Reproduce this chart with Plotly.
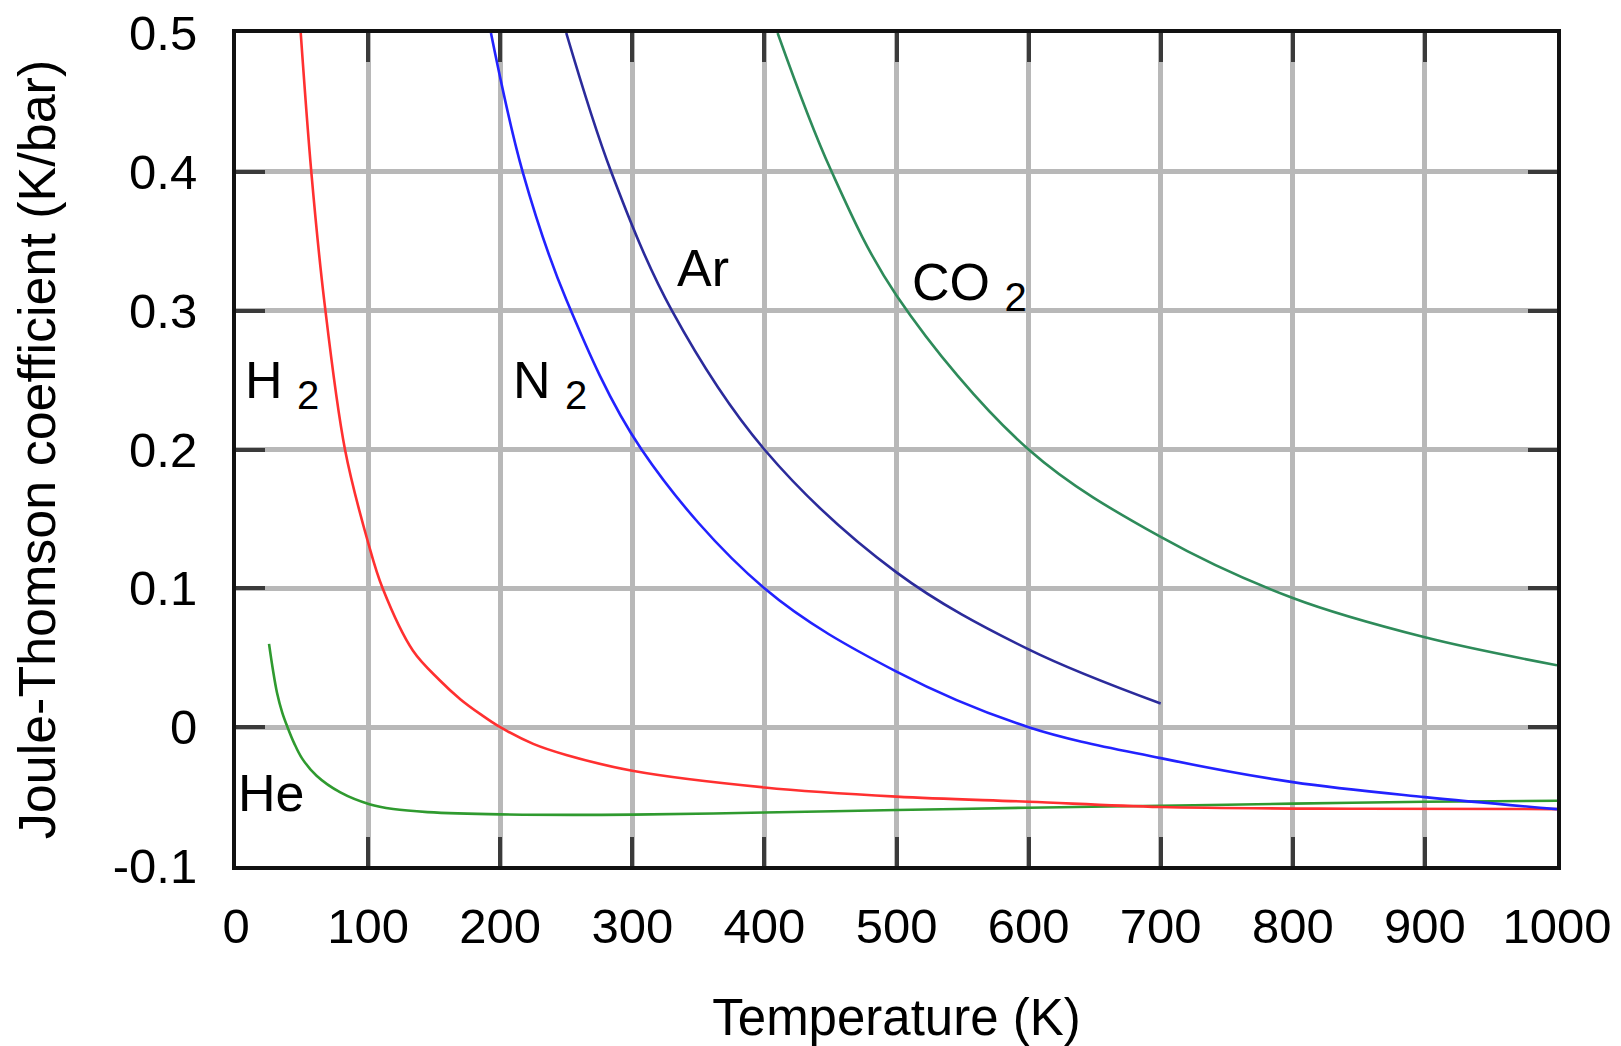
import plotly.graph_objects as go

# ---------------- data ----------------
h2_T = [49, 57, 66.7, 82.5, 100, 111, 134, 154, 170, 185, 200, 225, 250, 300,
        400, 500, 600, 700, 850, 1000]
h2_mu = [0.5, 0.4, 0.308, 0.2, 0.133, 0.1, 0.055, 0.034, 0.020, 0.0094, 0.0,
         -0.012, -0.020, -0.0314, -0.0434, -0.050, -0.0537, -0.0575, -0.0588, -0.059]

he_T = [25, 28, 31, 35, 39, 44, 50, 61, 79, 101, 119, 145, 200, 300, 400, 500,
        600, 700, 800, 900, 1000]
he_mu = [0.06, 0.041, 0.025, 0.0105, 0.0, -0.0115, -0.0225, -0.035, -0.047,
         -0.0555, -0.059, -0.0612, -0.0628, -0.063, -0.0615, -0.0597, -0.058,
         -0.0566, -0.0551, -0.0537, -0.053]

n2_T = [193, 217, 250, 307, 400, 500, 600, 700, 800, 900, 1000]
n2_mu = [0.5, 0.4, 0.308, 0.2, 0.1, 0.040, 0.0, -0.0223, -0.0396, -0.0504, -0.059]

ar_T = [250, 284, 330, 400, 500, 600, 700]
ar_mu = [0.5, 0.4, 0.3, 0.2, 0.1115, 0.056, 0.017]

co2_T = [410, 450, 500, 600, 700, 800, 900, 1000]
co2_mu = [0.5, 0.402, 0.311, 0.2, 0.137, 0.093, 0.0647, 0.0446]

x_ticks = [0, 100, 200, 300, 400, 500, 600, 700, 800, 900, 1000]
x_ticktext = ["0", "100", "200", "300", "400", "500", "600", "700", "800", "900", "1000"]
y_ticks = [-0.1, 0.0, 0.1, 0.2, 0.3, 0.4, 0.5]
y_ticktext = ["-0.1", "0", "0.1", "0.2", "0.3", "0.4", "0.5"]

SUB = "<sub><span style='font-size:40px'>2</span></sub>"
labels = ["He", "H " + SUB, "N " + SUB, "Ar", "CO " + SUB]
label_T = [0, 5.5, 208, 332, 510]
label_mu = [-0.0475, 0.2470, 0.2470, 0.331, 0.318]

# ---------------- figure ----------------
FONT = "Liberation Sans, Arial, sans-serif"

series = [
    ("He", he_T, he_mu, "#2f9a2f"),
    ("H2", h2_T, h2_mu, "#ff3030"),
    ("N2", n2_T, n2_mu, "#2222ff"),
    ("Ar", ar_T, ar_mu, "#2b2b9b"),
    ("CO2", co2_T, co2_mu, "#2e8b5a"),
]

fig = go.Figure()
for name, xs, ys, col in series:
    fig.add_trace(go.Scatter(
        x=xs, y=ys, mode="lines", name=name,
        line=dict(color=col, width=2.6, shape="spline", smoothing=1.0),
        showlegend=False, hoverinfo="skip", cliponaxis=True,
    ))

for txt, tx, ty in zip(labels, label_T, label_mu):
    fig.add_annotation(x=tx, y=ty, xref="x", yref="y", text=txt, showarrow=False,
                       xanchor="left", yanchor="middle",
                       font=dict(family=FONT, size=52, color="black"))

axis_common = dict(
    showgrid=True, gridcolor="#b8b8b8", gridwidth=4.5,
    zeroline=False,
    showline=True, linecolor="#111111", linewidth=4, mirror="ticks",
    ticks="inside", ticklen=29, tickwidth=4, tickcolor="#3a3a3a",
    tickfont=dict(family=FONT, size=49, color="black"),
    automargin=False,
)

fig.update_xaxes(range=[0, 1000], tickvals=x_ticks, ticktext=x_ticktext,
                 ticklabelstandoff=14,
                 title=dict(text="Temperature (K)", standoff=50,
                            font=dict(family=FONT, size=51, color="black")),
                 **axis_common)
fig.update_yaxes(range=[-0.1, 0.5], tickvals=y_ticks, ticktext=y_ticktext,
                 ticklabelstandoff=25,
                 title=dict(text="Joule-Thomson coefficient (K/bar)", standoff=42,
                            font=dict(family=FONT, size=52, color="black")),
                 **axis_common)

fig.update_layout(
    width=1621, height=1046,
    margin=dict(l=236, r=64, t=33, b=180),
    paper_bgcolor="white", plot_bgcolor="white",
    font=dict(family=FONT, color="black"),
)

fig.write_html("out.html",
               config={"displayModeBar": False},
               post_script="document.body.style.margin='0px';"
                           "document.body.style.overflow='hidden';")
